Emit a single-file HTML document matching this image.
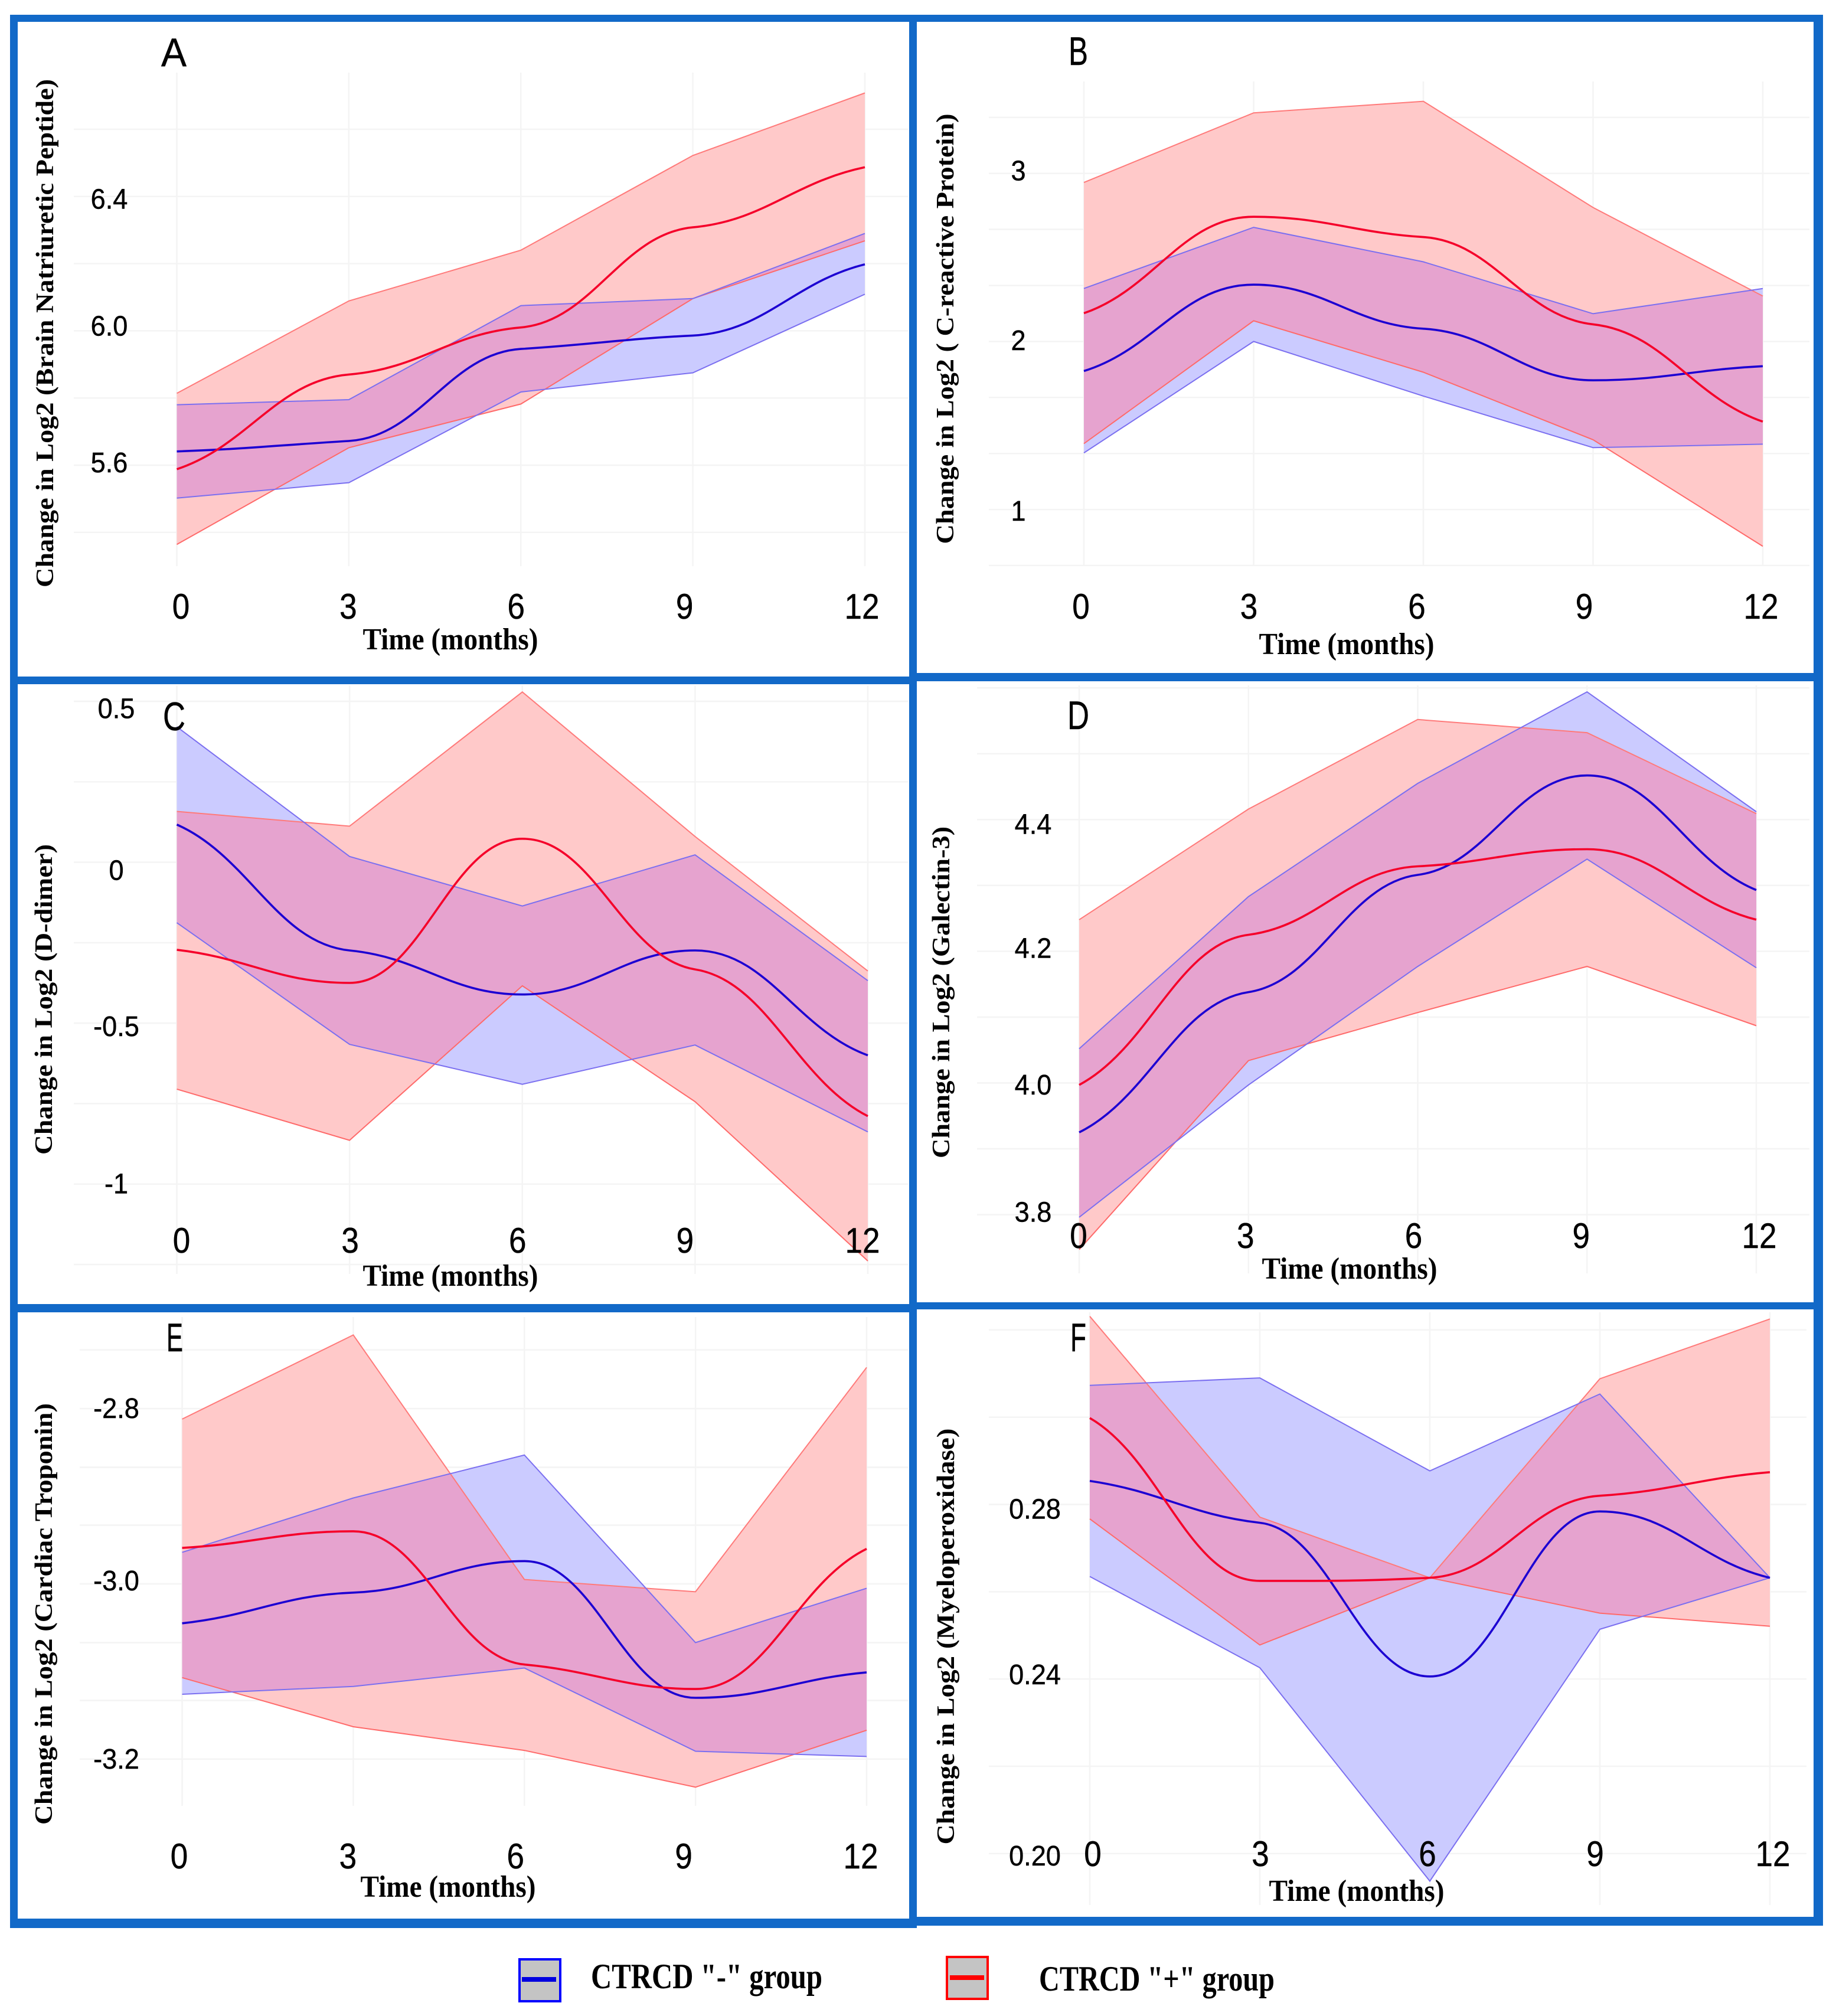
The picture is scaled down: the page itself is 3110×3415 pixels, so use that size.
<!DOCTYPE html>
<html lang="en">
<head>
<meta charset="utf-8">
<title>Change in Log2 biomarkers over time by CTRCD group</title>
<style>
html,body{margin:0;padding:0;background:#fff;}
body{width:3110px;height:3415px;overflow:hidden;}
svg{display:block;}
.tick{font-family:"Liberation Sans",sans-serif;fill:#000;stroke:#000;stroke-width:0.5px;}
.ser{font-family:"Liberation Serif",serif;font-weight:bold;fill:#000;}
</style>
</head>
<body>
<svg id="figure" xmlns="http://www.w3.org/2000/svg" width="3110" height="3415" viewBox="0 0 3110 3415">
<rect x="0" y="0" width="3110" height="3415" fill="#fff"/>
<g id="panels"></g>
<g fill="#1269c8">
<rect x="17" y="25" width="3071" height="12"/>
<rect x="17" y="25" width="13" height="3241"/>
<rect x="3072" y="25" width="16" height="3237"/>
<rect x="1540" y="25" width="13" height="3235"/>
<rect x="17" y="1146" width="1523" height="13"/>
<rect x="1553" y="1140" width="1535" height="14"/>
<rect x="17" y="2209" width="1523" height="14"/>
<rect x="1553" y="2206" width="1535" height="12"/>
<rect x="17" y="3250" width="1536" height="16"/>
<rect x="1540" y="3247" width="1548" height="15"/>
</g>
<g>
<g>
<rect x="880" y="3319" width="69" height="71" fill="#c4c4c4" stroke="#0000ff" stroke-width="4"/>
<rect x="884" y="3349" width="58" height="8" fill="#0000e0"/>
<text class="ser" x="1001" y="3368" font-size="60" textLength="392" lengthAdjust="spacingAndGlyphs">CTRCD "-" group</text>
</g>
<g>
<rect x="1604" y="3315" width="69" height="71" fill="#c4c4c4" stroke="#ff0000" stroke-width="4"/>
<rect x="1609" y="3346" width="58" height="8" fill="#ff0000"/>
<text class="ser" x="1760" y="3372" font-size="60" textLength="399" lengthAdjust="spacingAndGlyphs">CTRCD "+" group</text>
</g>
</g>
</svg>
<script>
// Shared categories
const months = [0, 3, 6, 9, 12];

// Panel A: Brain Natriuretic Peptide
const aRedUpper = [5.814, 6.089, 6.240, 6.522, 6.708];
const aRedLower = [5.364, 5.652, 5.782, 6.096, 6.268];
const aRedMean = [5.588, 5.870, 6.010, 6.308, 6.487];
const aBlueUpper = [5.780, 5.795, 6.075, 6.096, 6.290];
const aBlueLower = [5.502, 5.548, 5.818, 5.875, 6.109];
const aBlueMean = [5.641, 5.672, 5.946, 5.986, 6.198];
const aTickValues = [6.4, 6.0, 5.6];
const aTickLabels = ['6.4', '6.0', '5.6'];
const aGridValues = [6.6, 6.4, 6.2, 6.0, 5.8, 5.6, 5.4];

// Panel B: C-reactive Protein
const bRedUpper = [2.946, 3.360, 3.429, 2.797, 2.270];
const bRedLower = [1.392, 2.123, 1.817, 1.415, 0.781];
const bRedMean = [2.168, 2.742, 2.621, 2.102, 1.523];
const bBlueUpper = [2.315, 2.679, 2.474, 2.165, 2.315];
const bBlueLower = [1.337, 2.000, 1.675, 1.368, 1.389];
const bBlueMean = [1.824, 2.338, 2.076, 1.769, 1.853];
const bTickValues = [3, 2, 1];
const bTickLabels = ['3', '2', '1'];
const bGridValues = [3.333, 3, 2.667, 2.333, 2, 1.667, 1.333, 1, 0.667];

// Panel C: D-dimer
const cRedUpper = [0.158, 0.112, 0.529, 0.080, -0.338];
const cRedLower = [-0.705, -0.864, -0.384, -0.744, -1.239];
const cRedMean = [-0.272, -0.375, 0.073, -0.333, -0.789];
const cBlueUpper = [0.421, 0.018, -0.136, 0.023, -0.368];
const cBlueLower = [-0.188, -0.566, -0.690, -0.568, -0.838];
const cBlueMean = [0.117, -0.274, -0.411, -0.274, -0.600];
const cTickValues = [0.5, 0, -0.5, -1];
const cTickLabels = ['0.5', '0', '-0.5', '-1'];
const cGridValues = [0.5, 0.25, 0, -0.25, -0.5, -0.75, -1, -1.25];

// Panel D: Galectin-3
const dRedUpper = [4.248, 4.416, 4.552, 4.532, 4.409];
const dRedLower = [3.747, 4.034, 4.107, 4.177, 4.087];
const dRedMean = [3.997, 4.225, 4.329, 4.355, 4.248];
const dBlueUpper = [4.052, 4.283, 4.455, 4.594, 4.412];
const dBlueLower = [3.796, 3.997, 4.177, 4.340, 4.175];
const dBlueMean = [3.925, 4.138, 4.316, 4.467, 4.293];
const dTickValues = [4.4, 4.2, 4.0, 3.8];
const dTickLabels = ['4.4', '4.2', '4.0', '3.8'];
const dGridValues = [4.6, 4.5, 4.4, 4.3, 4.2, 4.1, 4.0, 3.9, 3.8];

// Panel E: Cardiac Troponin
const eRedUpper = [-2.812, -2.716, -2.995, -3.009, -2.753];
const eRedLower = [-3.107, -3.163, -3.190, -3.232, -3.167];
const eRedMean = [-2.959, -2.940, -3.092, -3.120, -2.960];
const eBlueUpper = [-2.964, -2.902, -2.853, -3.067, -3.005];
const eBlueLower = [-3.126, -3.117, -3.096, -3.191, -3.197];
const eBlueMean = [-3.045, -3.010, -2.974, -3.130, -3.101];
const eTickValues = [-2.8, -3.0, -3.2];
const eTickLabels = ['-2.8', '-3.0', '-3.2'];
const eGridValues = [-2.733, -2.8, -2.867, -2.933, -3, -3.067, -3.133, -3.2];

// Panel F: Myeloperoxidase
const fRedUpper = [0.3231, 0.2771, 0.2632, 0.3088, 0.3225];
const fRedLower = [0.2767, 0.2478, 0.2632, 0.2551, 0.2521];
const fRedMean = [0.2998, 0.2625, 0.2632, 0.2820, 0.2874];
const fBlueUpper = [0.3073, 0.3090, 0.2877, 0.3053, 0.2632];
const fBlueLower = [0.2635, 0.2426, 0.1937, 0.2514, 0.2632];
const fBlueMean = [0.2854, 0.2758, 0.2406, 0.2784, 0.2632];
const fTickValues = [0.28, 0.24, 0.20];
const fTickLabels = ['0.28', '0.24', '0.20'];
const fGridValues = [0.32, 0.30, 0.28, 0.26, 0.24, 0.22, 0.20];

// Panel definitions: series plus layout (axis scale anchors, label placement)
const panelDefs = [
  {id:'a', letter:'A', letterX:273, letterY:112, letterW:43,
   title:'Change in Log2 (Brain Natriuretic Peptide)', titleX:90, titleY:564.5, titleLen:861,
   timeX:763, timeY:1100,
   xLeft:299.5, xRight:1465,
   yRefVal:6, yRefPx:560.4, yPerUnit:569,
   gridL:125, gridR:1538, gridT:123, gridB:959,
   xLabY:1048, xLabDx:[7,-1,-8,-14,-5], yLabX:185, yLabDy:[4.5,-8,-4],
   rU:aRedUpper, rL:aRedLower, rM:aRedMean, bU:aBlueUpper, bL:aBlueLower, bM:aBlueMean,
   ticks:aTickValues, tickText:aTickLabels, grid:aGridValues},
  {id:'b', letter:'B', letterX:1810, letterY:110, letterW:33,
   title:'Change in Log2 ( C-reactive Protein)', titleX:1615, titleY:557, titleLen:729,
   timeX:2281, timeY:1108,
   xLeft:1836, xRight:2986,
   yRefVal:2, yRefPx:578.4, yPerUnit:284.7,
   gridL:1675, gridR:3065, gridT:138, gridB:957,
   xLabY:1048, xLabDx:[-5,-8,-11,-15,-3], yLabX:1725, yLabDy:[-4,-1.5,3],
   rU:bRedUpper, rL:bRedLower, rM:bRedMean, bU:bBlueUpper, bL:bBlueLower, bM:bBlueMean,
   ticks:bTickValues, tickText:bTickLabels, grid:bGridValues},
  {id:'c', letter:'C', letterX:276, letterY:1237, letterW:38,
   title:'Change in Log2 (D-dimer)', titleX:88, titleY:1693, titleLen:526,
   timeX:763, timeY:2178,
   xLeft:299.5, xRight:1470,
   yRefVal:0, yRefPx:1460.6, yPerUnit:545.1,
   gridL:125, gridR:1538, gridT:1161, gridB:2158,
   xLabY:2122, xLabDx:[8,1,-8,-17,-9], yLabX:197, yLabDy:[12.6,14,5.6,0],
   rU:cRedUpper, rL:cRedLower, rM:cRedMean, bU:cBlueUpper, bL:cBlueLower, bM:cBlueMean,
   ticks:cTickValues, tickText:cTickLabels, grid:cGridValues},
  {id:'d', letter:'D', letterX:1808, letterY:1235, letterW:37,
   title:'Change in Log2 (Galectin-3)', titleX:1608, titleY:1681, titleLen:562,
   timeX:2286, timeY:2166,
   xLeft:1828, xRight:2975,
   yRefVal:4, yRefPx:1834.5, yPerUnit:1115.4,
   gridL:1655, gridR:3065, gridT:1161, gridB:2157,
   xLabY:2114, xLabDx:[-1,-5,-7,-10,5], yLabX:1750, yLabDy:[8,-5,3.5,-4],
   rU:dRedUpper, rL:dRedLower, rM:dRedMean, bU:dBlueUpper, bL:dBlueLower, bM:dBlueMean,
   ticks:dTickValues, tickText:dTickLabels, grid:dGridValues},
  {id:'e', letter:'E', letterX:282, letterY:2289, letterW:28,
   title:'Change in Log2 (Cardiac Troponin)', titleX:88, titleY:2734, titleLen:714,
   timeX:759, timeY:3213,
   xLeft:308.5, xRight:1468,
   yRefVal:-3, yRefPx:2683, yPerUnit:1484.5,
   gridL:135, gridR:1538, gridT:2231, gridB:3059,
   xLabY:3165, xLabDx:[-5,-9,-15,-20,-10], yLabX:197, yLabDy:[0,-5,0],
   rU:eRedUpper, rL:eRedLower, rM:eRedMean, bU:eBlueUpper, bL:eBlueLower, bM:eBlueMean,
   ticks:eTickValues, tickText:eTickLabels, grid:eGridValues},
  {id:'f', letter:'F', letterX:1813, letterY:2289, letterW:27,
   title:'Change in Log2 (Myeloperoxidase)', titleX:1616, titleY:2772, titleLen:705,
   timeX:2298, timeY:3220,
   xLeft:1846, xRight:2998,
   yRefVal:0.24, yRefPx:2844.2, yPerUnit:7393,
   gridL:1675, gridR:3060, gridT:2223, gridB:3227,
   xLabY:3161, xLabDx:[5,1,-4,-8,5], yLabX:1753, yLabDy:[8,-7,4],
   rU:fRedUpper, rL:fRedLower, rM:fRedMean, bU:fBlueUpper, bL:fBlueLower, bM:fBlueMean,
   ticks:fTickValues, tickText:fTickLabels, grid:fGridValues}
];

const SVGNS = 'http://www.w3.org/2000/svg';
function mk(tag, parent, props) {
  const node = document.createElementNS(SVGNS, tag);
  for (const k in props) node.setAttribute(k, props[k]);
  parent.appendChild(node);
  return node;
}
function poly(xs, ys) {
  return xs.map((x, i) => x.toFixed(1) + ',' + ys[i].toFixed(1)).join(' ');
}
function band(xs, upper, lower) {
  const top = xs.map((x, i) => x.toFixed(1) + ',' + upper[i].toFixed(1));
  const bot = xs.map((x, i) => x.toFixed(1) + ',' + lower[i].toFixed(1)).reverse();
  return top.concat(bot).join(' ');
}
function tickWidth(label, size) {
  let w = 0;
  for (const ch of label) w += ch === '.' ? 0.278 : ch === '-' ? 0.333 : 0.556;
  return w * size * 0.94;
}
// Smooth curve through the means: plateau-like tangents at interior knots
function smooth(xs, ys) {
  const n = xs.length;
  const m = [];
  for (let i = 0; i < n; i++) {
    if (i === 0) m.push(0.6 * (ys[1] - ys[0]) / (xs[1] - xs[0]));
    else if (i === n - 1) m.push(0.6 * (ys[n - 1] - ys[n - 2]) / (xs[n - 1] - xs[n - 2]));
    else if ((ys[i] - ys[i - 1]) * (ys[i + 1] - ys[i]) <= 0) m.push(0);
    else m.push(0.2 * (ys[i + 1] - ys[i - 1]) / (xs[i + 1] - xs[i - 1]));
  }
  let d = 'M' + xs[0].toFixed(1) + ' ' + ys[0].toFixed(1);
  for (let i = 0; i < n - 1; i++) {
    const h = (xs[i + 1] - xs[i]) / 2.4;
    d += ' C' + (xs[i] + h).toFixed(1) + ' ' + (ys[i] + m[i] * h).toFixed(1) +
         ' ' + (xs[i + 1] - h).toFixed(1) + ' ' + (ys[i + 1] - m[i + 1] * h).toFixed(1) +
         ' ' + xs[i + 1].toFixed(1) + ' ' + ys[i + 1].toFixed(1);
  }
  return d;
}

const root = document.getElementById('panels');
panelDefs.forEach(function (p) {
  const xMin = months[0];
  const xMax = months[months.length - 1];
  const xScale = t => p.xLeft + (t - xMin) / (xMax - xMin) * (p.xRight - p.xLeft);
  const yScale = v => p.yRefPx - (v - p.yRefVal) * p.yPerUnit;
  const xs = months.map(xScale);

  const g = mk('g', root, {});
  
  

  // Gridlines
  const gridG = mk('g', g, {stroke: '#f4f4f4', 'stroke-width': 2.5});
  
  
  p.grid.forEach(function (v) {
    const line = mk('line', gridG, {x1: p.gridL, x2: p.gridR, y1: yScale(v), y2: yScale(v)});
    
    
  });
  months.forEach(function (t) {
    const line = mk('line', gridG, {x1: xScale(t), x2: xScale(t), y1: p.gridT, y2: p.gridB});
    
    
  });

  const rU = p.rU.map(yScale), rL = p.rL.map(yScale), rM = p.rM.map(yScale);
  const bU = p.bU.map(yScale), bL = p.bL.map(yScale), bM = p.bM.map(yScale);

  // Bands
  const redBand = mk('polygon', g, {points: band(xs, rU, rL), fill: '#ffc9c9'});
  
  

  const blueBand = mk('polygon', g, {points: band(xs, bU, bL), fill: '#cbcbff'});
  
  

  const clip = mk('clipPath', g, {id: 'clip-red-' + p.id});
  mk('polygon', clip, {points: band(xs, rU, rL)});
  const overlap = mk('polygon', g, {points: band(xs, bU, bL), fill: '#e6a3cf', 'clip-path': 'url(#clip-red-' + p.id + ')'});
  
  

  // Band edges
  [[rU, '#ff7a7a', 'red-upper'], [rL, '#ff6a6a', 'red-lower'], [bU, '#7b6ff0', 'blue-upper'], [bL, '#7b6ff0', 'blue-lower']].forEach(function (e) {
    const edge = mk('polyline', g, {points: poly(xs, e[0]), fill: 'none', stroke: e[1], 'stroke-width': 2});
    
    
  });

  // Mean lines
  const blueLine = mk('path', g, {d: smooth(xs, bM), fill: 'none', stroke: '#1c00d2', 'stroke-width': 3.6});
  
  

  const redLine = mk('path', g, {d: smooth(xs, rM), fill: 'none', stroke: '#f5002a', 'stroke-width': 3.6});
  
  

  // X tick labels
  months.forEach(function (t, i) {
    const label = String(t);
    const tx = mk('text', g, {
      class: 'tick', x: xScale(t) + p.xLabDx[i], y: p.xLabY, 'font-size': 60, 'text-anchor': 'middle',
      textLength: 29.5 * label.length, lengthAdjust: 'spacingAndGlyphs'
    });
    tx.textContent = label;
    
    
  });

  // Y tick labels
  p.ticks.forEach(function (v, i) {
    const label = p.tickText[i];
    const ty = mk('text', g, {
      class: 'tick', x: p.yLabX, y: yScale(v) + p.yLabDy[i] + 16, 'font-size': 48, 'text-anchor': 'middle',
      textLength: tickWidth(label, 48), lengthAdjust: 'spacingAndGlyphs'
    });
    ty.textContent = label;
    
    
  });

  // Axis titles
  const xTitle = mk('text', g, {
    class: 'ser', x: p.timeX, y: p.timeY, 'font-size': 52, 'text-anchor': 'middle',
    textLength: 297, lengthAdjust: 'spacingAndGlyphs'
  });
  xTitle.textContent = 'Time (months)';
  
  

  const yTitle = mk('text', g, {
    class: 'ser', 'font-size': 42, 'text-anchor': 'middle',
    transform: 'translate(' + p.titleX + ',' + p.titleY + ') rotate(-90)',
    textLength: p.titleLen, lengthAdjust: 'spacingAndGlyphs'
  });
  yTitle.textContent = p.title;
  
  

  // Panel letter
  const letter = mk('text', g, {
    class: 'tick', x: p.letterX, y: p.letterY, 'font-size': 68,
    textLength: p.letterW, lengthAdjust: 'spacingAndGlyphs'
  });
  letter.textContent = p.letter;
  
  
});
</script>
</body>
</html>
